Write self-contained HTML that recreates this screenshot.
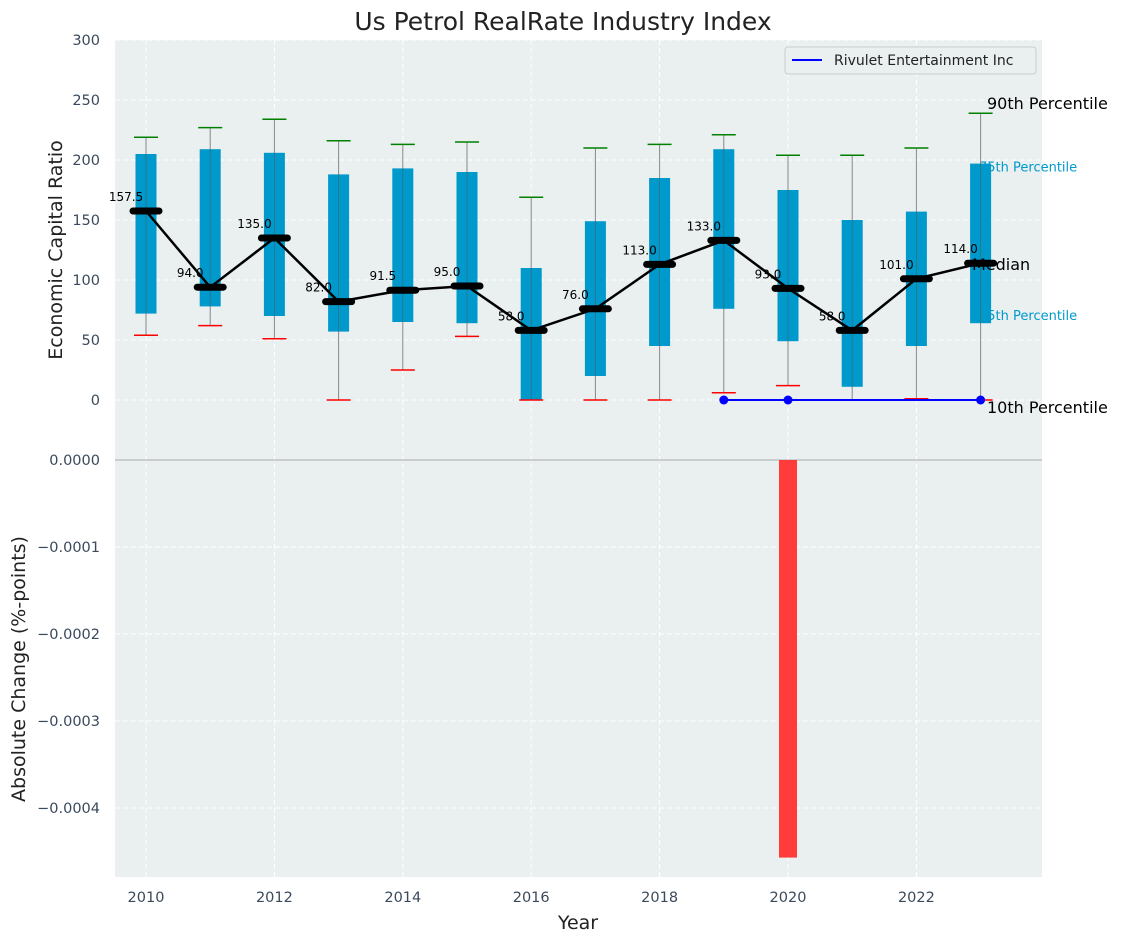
<!DOCTYPE html>
<html><head><meta charset="utf-8"><style>
body{margin:0;background:#fff;font-family:"Liberation Sans","DejaVu Sans",sans-serif}
svg text{font-family:"DejaVu Sans","Liberation Sans",sans-serif}
</style></head><body>
<svg id="c" width="1122" height="942" xmlns="http://www.w3.org/2000/svg"></svg>
<script>
const years=[2010,2011,2012,2013,2014,2015,2016,2017,2018,2019,2020,2021,2022,2023];
const q1=[72,78,70,57,65,64,0,20,45,76,49,11,45,64];
const q3=[205,209,206,188,193,190,110,149,185,209,175,150,157,197];
const lowW=[54,62,51,0,25,53,0,0,0,6,12,0,1,0];
const highW=[219,227,234,216,213,215,169,210,213,221,204,204,210,239];
const medians=[157.5,94,135,82,91.5,95,58,76,113,133,93,58,101,114];
const rivuletYears=[2019,2020,2023];
const rivuletVals=[0,0,0];
const changeYears=[2020];
const changeVals=[-0.000457];
const yTicks=[0,50,100,150,200,250,300];
const y2Ticks=[0,-0.0001,-0.0002,-0.0003,-0.0004];
const xTicks=[2010,2012,2014,2016,2018,2020,2022];

const NS="http://www.w3.org/2000/svg",svg=document.getElementById('c');
function el(t,a,txt){const e=document.createElementNS(NS,t);for(const k in a)e.setAttribute(k,a[k]);if(txt!==undefined)e.textContent=txt;svg.appendChild(e);return e;}
const L=115,R=1042,T=40,M=460,B=877;
const x=v=>146+(v-2010)*64.2;
const y=v=>400-v*1.2;
const y2=v=>460-v/0.0001*87;

let e=el('rect',{x:L,y:T,width:R-L,height:M-T,fill:'#eaeff0'});

e=el('rect',{x:L,y:M,width:R-L,height:B-M,fill:'#eaeff0'});

yTicks.forEach(t=>{el('line',{x1:L,x2:R,y1:y(t),y2:y(t),stroke:'#fff','stroke-dasharray':'5,3','stroke-width':1});
 e=el('text',{x:100,y:y(t)+5,'text-anchor':'end','font-size':14.5,fill:'#3a4a5c'},t);
 });
y2Ticks.forEach(t=>{el('line',{x1:L,x2:R,y1:y2(t),y2:y2(t),stroke:'#fff','stroke-dasharray':'5,3','stroke-width':1});
 e=el('text',{x:100,y:y2(t)+5,'text-anchor':'end','font-size':14.5,fill:'#3a4a5c'},t===0?'0.0000':'\u2212'+Math.abs(t).toFixed(4));
 });
xTicks.forEach(t=>{el('line',{x1:x(t),x2:x(t),y1:T,y2:B,stroke:'#fff','stroke-dasharray':'5,3','stroke-width':1});
 e=el('text',{x:x(t),y:902,'text-anchor':'middle','font-size':14.5,fill:'#3a4a5c'},t);
 });
el('line',{x1:L,x2:R,y1:M,y2:M,stroke:'#aaa','stroke-width':1});
const last=years.length-1;
e=el('text',{x:979,y:y(q3[last])+8,'font-size':13,fill:'#0099cc'},'75th Percentile');

e=el('text',{x:979,y:y(q1[last])-3,'font-size':13,fill:'#0099cc'},'25th Percentile');

years.forEach((yr,i)=>{const cx=x(yr);
 e=el('line',{x1:cx,x2:cx,y1:y(lowW[i]),y2:y(highW[i]),stroke:'#888','stroke-width':1});
 
 e=el('rect',{x:cx-10.5,y:y(q3[i]),width:21,height:y(q1[i])-y(q3[i]),fill:'#0099cc'});
 
 el('line',{x1:cx,x2:cx,y1:y(q1[i]),y2:y(q3[i]),stroke:'#555','stroke-width':0.8,opacity:0.6});
 e=el('line',{x1:cx-12,x2:cx+12,y1:y(highW[i]),y2:y(highW[i]),stroke:'green','stroke-width':1.5});
 
 e=el('line',{x1:cx-12,x2:cx+12,y1:y(lowW[i]),y2:y(lowW[i]),stroke:'red','stroke-width':1.5});
 
});
e=el('polyline',{points:years.map((yr,i)=>x(yr)+','+y(medians[i])).join(' '),fill:'none',stroke:'#000','stroke-width':2.5});

years.forEach((yr,i)=>{
 e=el('line',{x1:x(yr)-13,x2:x(yr)+13,y1:y(medians[i]),y2:y(medians[i]),stroke:'#000','stroke-width':7,'stroke-linecap':'round'});
 
 e=el('text',{x:x(yr)-20,y:y(medians[i])-10,'text-anchor':'middle','font-size':12,fill:'#000'},medians[i].toFixed(1));
 
});
e=el('polyline',{points:rivuletYears.map((yr,i)=>x(yr)+','+y(rivuletVals[i])).join(' '),fill:'none',stroke:'blue','stroke-width':2});

rivuletYears.forEach((yr,i)=>{e=el('circle',{cx:x(yr),cy:y(rivuletVals[i]),r:4.5,fill:'blue'});
 });
[['90th Percentile',y(highW[last])-4,'p90-annotation',987],['Median',y(medians[last])+7,'median-annotation',972],['10th Percentile',y(lowW[last])+13,'p10-annotation',987]].forEach(a=>{
 e=el('text',{x:a[3],y:a[1],'font-size':16,fill:'#000'},a[0]);
 });
changeYears.forEach((yr,i)=>{const v=changeVals[i];
 e=el('rect',{x:x(yr)-9,y:Math.min(y2(0),y2(v)),width:18,height:Math.abs(y2(v)-y2(0)),fill:'#ff3b3b'});
 });
e=el('rect',{x:785,y:47,width:251,height:27,fill:'#eaeff0',stroke:'#ccc',rx:3});

el('line',{x1:792,x2:822,y1:60,y2:60,stroke:'blue','stroke-width':2});
e=el('text',{x:834,y:65,'font-size':14,fill:'#222'},'Rivulet Entertainment Inc');

e=el('text',{x:563,y:30,'text-anchor':'middle','font-size':25,fill:'#222'},'Us Petrol RealRate Industry Index');

e=el('text',{x:578,y:929,'text-anchor':'middle','font-size':19,fill:'#222'},'Year');

e=el('text',{x:0,y:0,'text-anchor':'middle','font-size':19,fill:'#222',transform:'translate(62,250) rotate(-90)'},'Economic Capital Ratio');

e=el('text',{x:0,y:0,'text-anchor':'middle','font-size':19,fill:'#222',transform:'translate(25,669) rotate(-90)'},'Absolute Change (%-points)');

</script>
</body></html>
